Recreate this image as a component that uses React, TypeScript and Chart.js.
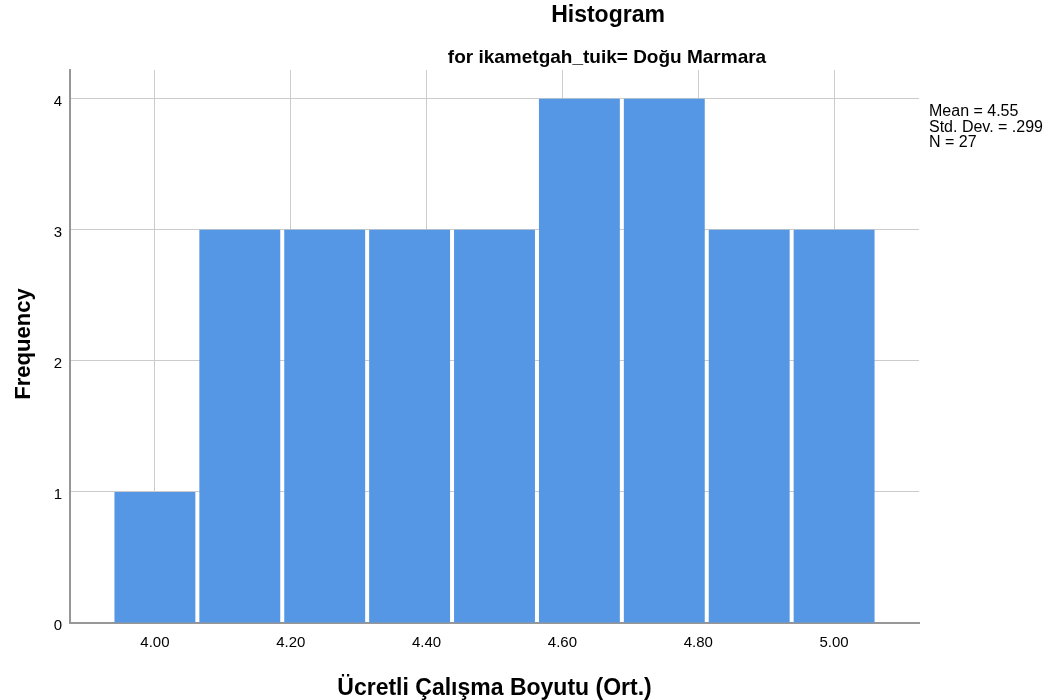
import React, { useEffect, useRef } from "react";
import { Chart, registerables } from "chart.js";

Chart.register(...registerables);

// ---- Data ----
const binCenters = [4.0, 4.125, 4.25, 4.375, 4.5, 4.625, 4.75, 4.875, 5.0];
const frequencies = [1, 3, 3, 3, 3, 4, 4, 3, 3];
const xTickValues = [4.0, 4.2, 4.4, 4.6, 4.8, 5.0];
const yTickValues = [0, 1, 2, 3, 4];
const statsLines = ["Mean = 4.55", "Std. Dev. = .299", "N = 27"];
const chartTitle = "Histogram";
const chartSubtitle = "for ikametgah_tuik= Doğu Marmara";
const xAxisTitle = "Ücretli Çalışma Boyutu (Ort.)";
const yAxisTitle = "Frequency";

const FONT = "'Liberation Sans', Arial, sans-serif";
const BAR_COLOR = "#5597e4";
const GRID_COLOR = "#cbcbcb";
const AXIS_COLOR = "#979797";

const textPlugin = {
  id: "spssTexts",
  afterDraw(chart: any) {
    const { ctx, chartArea } = chart;
    ctx.save();
    ctx.fillStyle = "#000";
    ctx.textBaseline = "alphabetic";

    ctx.textAlign = "center";
    ctx.font = `bold 23px ${FONT}`;
    ctx.fillText(chartTitle, 608, 22);

    ctx.font = `bold 19px ${FONT}`;
    ctx.fillText(chartSubtitle, 607, 63);

    ctx.font = `bold 23px ${FONT}`;
    ctx.fillText(xAxisTitle, (chartArea.left + chartArea.right) / 2, 695);

    ctx.save();
    ctx.translate(29.5, 344);
    ctx.rotate(-Math.PI / 2);
    ctx.font = `bold 22px ${FONT}`;
    ctx.fillText(yAxisTitle, 0, 0);
    ctx.restore();

    ctx.textAlign = "left";
    ctx.font = `16px ${FONT}`;
    statsLines.forEach((line, i) => {
      ctx.fillText(line, chartArea.right + 10, 116 + i * 15.5);
    });
    ctx.restore();
  },
};

export default function App() {
  const canvasRef = useRef<HTMLCanvasElement | null>(null);

  useEffect(() => {
    const canvas = canvasRef.current;
    if (!canvas) return;
    const chart = new Chart(canvas, {
      type: "bar",
      data: {
        datasets: [
          {
            data: binCenters.map((x, i) => ({ x, y: frequencies[i] })),
            backgroundColor: BAR_COLOR,
            borderWidth: 0,
            barPercentage: 0.953,
            categoryPercentage: 1,
          } as any,
        ],
      },
      options: {
        responsive: false,
        animation: false,
        events: [],
        layout: { padding: { left: 0, top: 70, right: 135, bottom: 0 } },
        plugins: {
          legend: { display: false },
          title: { display: false },
          tooltip: { enabled: false },
        },
        scales: {
          x: {
            type: "linear",
            min: 3.875,
            max: 5.125,
            offset: false,
            grid: {
              offset: false,
              color: GRID_COLOR,
              lineWidth: 1,
              drawTicks: false,
            },
            border: { display: true, color: AXIS_COLOR, width: 2 },
            ticks: {
              autoSkip: false,
              maxRotation: 0,
              padding: 11,
              color: "#000",
              font: { family: FONT, size: 15 },
              callback: (v: any) => Number(v).toFixed(2),
            },
            afterBuildTicks: (scale: any) => {
              scale.ticks = xTickValues.map((value) => ({ value }));
            },
            afterFit: (scale: any) => {
              scale.height = 77;
            },
          },
          y: {
            type: "linear",
            min: 0,
            max: 4.22,
            grid: {
              color: GRID_COLOR,
              lineWidth: 1,
              drawTicks: false,
            },
            border: { display: true, color: AXIS_COLOR, width: 2 },
            ticks: {
              padding: 8,
              labelOffset: 3,
              color: "#000",
              font: { family: FONT, size: 15 },
              callback: (v: any) => String(v),
            },
            afterBuildTicks: (scale: any) => {
              scale.ticks = yTickValues.map((value) => ({ value }));
            },
            afterFit: (scale: any) => {
              scale.width = 70;
            },
          },
        },
      } as any,
      plugins: [textPlugin],
    });
    return () => chart.destroy();
  }, []);

  return (
    <div style={{ position: "fixed", left: 0, top: 0, width: 1054, height: 700, background: "#fff" }}>
      <canvas ref={canvasRef} width={1054} height={700} style={{ width: 1054, height: 700, display: "block" }} />
    </div>
  );
}
